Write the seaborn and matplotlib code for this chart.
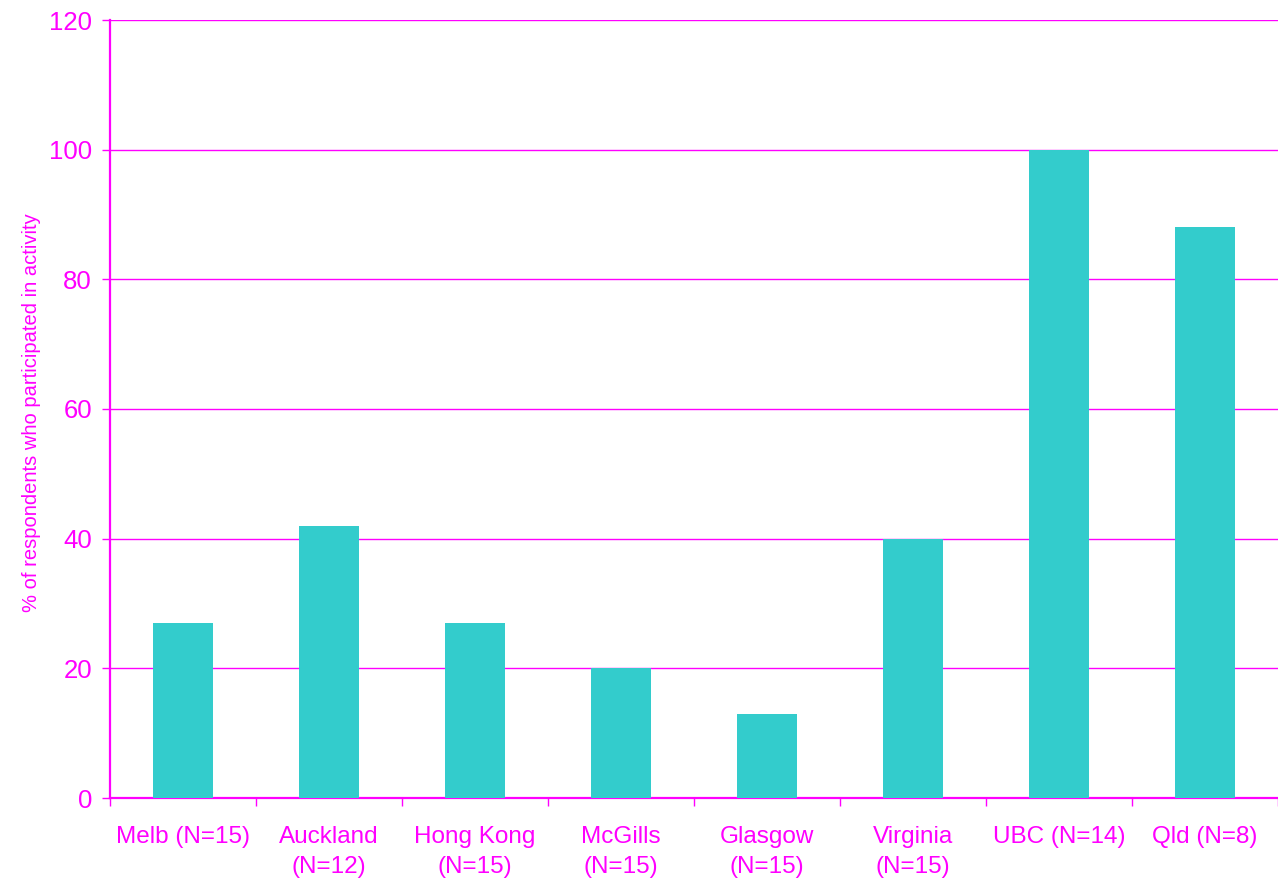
import numpy as np
import pandas as pd
import matplotlib
matplotlib.use("Agg")
import matplotlib.pyplot as plt
import seaborn as sns

# Chart data
sites = ["Melb (N=15)", "Auckland\n(N=12)", "Hong Kong\n(N=15)", "McGills\n(N=15)",
         "Glasgow\n(N=15)", "Virginia\n(N=15)", "UBC (N=14)", "Qld (N=8)"]
pct_participated = [27, 42, 27, 20, 13, 40, 100, 88]
y_ticks = [0, 20, 40, 60, 80, 100, 120]

magenta = "#FF00FF"
teal = "#33CCCC"

sns.set_style("white")
plt.rcParams["font.family"] = ["Liberation Sans", "DejaVu Sans"]

df = pd.DataFrame({"site": sites, "pct": pct_participated})

fig = plt.figure(figsize=(12.78, 8.85), dpi=100)
ax = fig.add_axes([110 / 1278, 1 - 798 / 885, (1278 - 110) / 1278, (798 - 20) / 885])

sns.barplot(data=df, x="site", y="pct", color=teal, saturation=1, width=0.41,
            linewidth=0, edgecolor="none", ax=ax, zorder=3)

ax.set_ylim(0, 120)
ax.set_xlim(-0.5, len(sites) - 0.5)
ax.set_yticks(y_ticks)
ax.yaxis.grid(True, color=magenta, linewidth=1, zorder=0)
ax.set_axisbelow(True)

# category labels at centres, tick marks at boundaries
ax.set_xticks(np.arange(len(sites)))
ax.set_xticklabels(sites, color=magenta, fontsize=17.5, linespacing=1.5)
ax.tick_params(axis="x", which="major", length=0, pad=20)
ax.set_xticks(np.arange(len(sites) + 1) - 0.5, minor=True)
ax.tick_params(axis="x", which="minor", length=6, color=magenta, width=1, direction="out", bottom=True)
ax.tick_params(axis="y", length=6, color=magenta, width=1, direction="out", left=True,
               labelcolor=magenta, labelsize=18.5, pad=7)

for side in ["left", "bottom"]:
    ax.spines[side].set_color(magenta)
    ax.spines[side].set_linewidth(1.6)
ax.spines["top"].set_visible(False)
ax.spines["right"].set_visible(False)

ax.set_xlabel("")
ax.set_ylabel("% of respondents who participated in activity", color=magenta, fontsize=14.5)
ax.yaxis.set_label_coords(-0.059, 0.495)

plt.savefig("out.png", dpi=100)
